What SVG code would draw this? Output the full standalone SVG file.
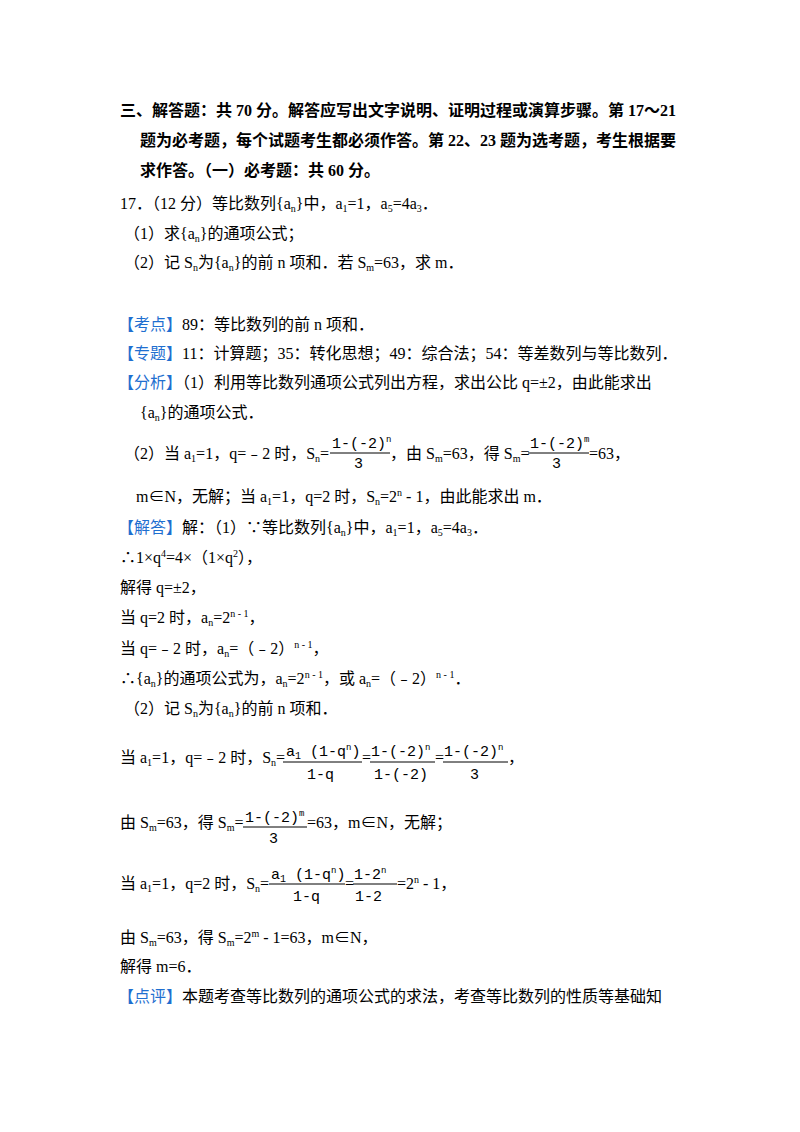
<svg xmlns="http://www.w3.org/2000/svg" width="800" height="1132" viewBox="0 0 800 1132">
<style>
text{font-family:"Liberation Serif","Noto Sans CJK SC",serif;font-size:16px;fill:#000}
.b{font-weight:bold}
.bl{fill:#1f6fd0}
.s{font-size:10px;baseline-shift:-3px}
.p{font-size:10px;baseline-shift:6px}
.m{font-family:"Liberation Mono","Noto Sans CJK SC",monospace;font-size:15px}
.m2{font-family:"Liberation Mono",monospace;font-size:9px;baseline-shift:6px}
.m3{font-family:"Liberation Mono",monospace;font-size:10px;baseline-shift:-3px}
line{stroke:#000;stroke-width:1}
</style>
<rect width="800" height="1132" fill="#fff"/>
<g id="header">
<text class="b" x="120" y="116">三、解答题：共 70 分。解答应写出文字说明、证明过程或演算步骤。第 17～21</text>
<text class="b" x="140" y="146">题为必考题，每个试题考生都必须作答。第 22、23 题为选考题，考生根据要</text>
<text class="b" x="140" y="176">求作答。（一）必考题：共 60 分。</text>
</g>
<g id="problem">
<text x="120" y="209">17．（12 分）等比数列{a<tspan class="s">n</tspan>}中，a<tspan class="s">1</tspan>=1，a<tspan class="s">5</tspan>=4a<tspan class="s">3</tspan>．</text>
<text x="124" y="239">（1）求{a<tspan class="s">n</tspan>}的通项公式；</text>
<text x="124" y="268">（2）记 S<tspan class="s">n</tspan>为{a<tspan class="s">n</tspan>}的前 n 项和．若 S<tspan class="s">m</tspan>=63，求 m．</text>
</g>
<g id="analysis">
<text x="118" y="330"><tspan class="bl">【考点】</tspan>89：等比数列的前 n 项和．</text>
<text x="118" y="359"><tspan class="bl">【专题】</tspan>11：计算题；35：转化思想；49：综合法；54：等差数列与等比数列．</text>
<text x="118" y="388"><tspan class="bl">【分析】</tspan>（1）利用等比数列通项公式列出方程，求出公比 q=±2，由此能求出</text>
<text x="140" y="418">{a<tspan class="s">n</tspan>}的通项公式．</text>
<text x="124" y="459">（2）当 a<tspan class="s">1</tspan>=1，q=﹣2 时，S<tspan class="s">n</tspan>=</text>
<text class="m" x="332" y="448">1-(-2)<tspan class="m2">n</tspan></text>
<line x1="330" y1="453" x2="390" y2="453"/>
<text class="m" x="354" y="468">3</text>
<text x="390" y="459">，由 S<tspan class="s">m</tspan>=63，得 S<tspan class="s">m</tspan>=</text>
<text class="m" x="530" y="448">1-(-2)<tspan class="m2">m</tspan></text>
<line x1="528" y1="453" x2="589" y2="453"/>
<text class="m" x="552" y="468">3</text>
<text x="589" y="459">=63，</text>
<text x="136" y="502">m∈N，无解；当 a<tspan class="s">1</tspan>=1，q=2 时，S<tspan class="s">n</tspan>=2<tspan class="p">n</tspan> - 1，由此能求出 m．</text>
</g>
<g id="solution">
<text x="118" y="533"><tspan class="bl">【解答】</tspan>解：（1）∵等比数列{a<tspan class="s">n</tspan>}中，a<tspan class="s">1</tspan>=1，a<tspan class="s">5</tspan>=4a<tspan class="s">3</tspan>．</text>
<text x="120" y="563">∴1×q<tspan class="p">4</tspan>=4×（1×q<tspan class="p">2</tspan>），</text>
<text x="120" y="593">解得 q=±2，</text>
<text x="120" y="623">当 q=2 时，a<tspan class="s">n</tspan>=2<tspan class="p">n - 1</tspan>，</text>
<text x="120" y="654">当 q=﹣2 时，a<tspan class="s">n</tspan>=（﹣2）<tspan class="p">n - 1</tspan>，</text>
<text x="120" y="684">∴{a<tspan class="s">n</tspan>}的通项公式为，a<tspan class="s">n</tspan>=2<tspan class="p">n - 1</tspan>，或 a<tspan class="s">n</tspan>=（﹣2）<tspan class="p">n - 1</tspan>．</text>
<text x="124" y="714">（2）记 S<tspan class="s">n</tspan>为{a<tspan class="s">n</tspan>}的前 n 项和．</text>

<text x="120" y="763">当 a<tspan class="s">1</tspan>=1，q=﹣2 时，S<tspan class="s">n</tspan>=</text>
<text class="m" x="286" y="756">a<tspan class="m3">1</tspan> (1-q<tspan class="m2">n</tspan>)</text>
<line x1="283" y1="762" x2="362" y2="762"/>
<text class="m" x="307" y="779">1-q</text>
<text x="362" y="763">=</text>
<text class="m" x="371" y="756">1-(-2)<tspan class="m2">n</tspan></text>
<line x1="370" y1="762" x2="435" y2="762"/>
<text class="m" x="374" y="779">1-(-2)</text>
<text x="435" y="763">=</text>
<text class="m" x="444" y="756">1-(-2)<tspan class="m2">n</tspan></text>
<line x1="443" y1="762" x2="508" y2="762"/>
<text class="m" x="470" y="779">3</text>
<text x="508" y="763">，</text>

<text x="120" y="828">由 S<tspan class="s">m</tspan>=63，得 S<tspan class="s">m</tspan>=</text>
<text class="m" x="245" y="822">1-(-2)<tspan class="m2">m</tspan></text>
<line x1="243" y1="827" x2="307" y2="827"/>
<text class="m" x="269" y="843">3</text>
<text x="307" y="828">=63，m∈N，无解；</text>

<text x="120" y="889">当 a<tspan class="s">1</tspan>=1，q=2 时，S<tspan class="s">n</tspan>=</text>
<text class="m" x="271" y="879">a<tspan class="m3">1</tspan> (1-q<tspan class="m2">n</tspan>)</text>
<line x1="269" y1="884" x2="345" y2="884"/>
<text class="m" x="293" y="901">1-q</text>
<text x="345" y="889">=</text>
<text class="m" x="354" y="879">1-2<tspan class="m2">n</tspan></text>
<line x1="353" y1="884" x2="397" y2="884"/>
<text class="m" x="355" y="901">1-2</text>
<text x="397" y="889">=2<tspan class="p">n</tspan> - 1，</text>

<text x="120" y="943">由 S<tspan class="s">m</tspan>=63，得 S<tspan class="s">m</tspan>=2<tspan class="p">m</tspan> - 1=63，m∈N，</text>
<text x="120" y="972">解得 m=6．</text>
<text x="118" y="1002"><tspan class="bl">【点评】</tspan>本题考查等比数列的通项公式的求法，考查等比数列的性质等基础知</text>
</g>
</svg>
